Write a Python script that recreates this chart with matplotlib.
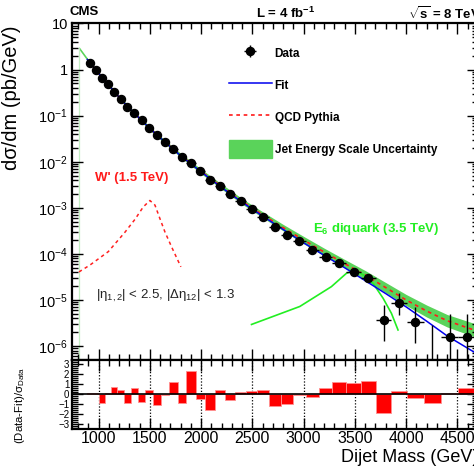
import numpy as np
import matplotlib
matplotlib.use('Agg')
import matplotlib.pyplot as plt
from matplotlib.ticker import MultipleLocator, LogLocator, NullFormatter, FuncFormatter
from matplotlib.patches import Patch
from matplotlib.lines import Line2D

plt.rcParams['font.family'] = ['Liberation Sans', 'DejaVu Sans']
plt.rcParams['mathtext.fontset'] = 'custom'
plt.rcParams['mathtext.rm'] = 'Liberation Sans'
plt.rcParams['mathtext.it'] = 'Liberation Sans:italic'
plt.rcParams['mathtext.bf'] = 'Liberation Sans:bold'

# Dijet mass bin edges (GeV)
bin_edges = [890, 944, 1000, 1058, 1118, 1181, 1246, 1313, 1383, 1455, 1530, 1607,
             1687, 1770, 1856, 1945, 2037, 2132, 2231, 2332, 2438, 2546, 2659, 2775,
             2895, 3019, 3147, 3279, 3416, 3558, 3704, 3854, 4010, 4171, 4337, 4509, 4686]

# measured dsigma/dm (pb/GeV), one per bin (0 = empty bin)
data_val = [1.40, 1.00, 0.67, 0.49, 0.334, 0.228, 0.158, 0.113, 0.0787, 0.0537,
            0.038, 0.0267, 0.0188, 0.0126, 0.00955, 0.0062, 0.00409, 0.00303,
            0.0020, 0.00139, 9.46e-4, 6.47e-4, 3.93e-4, 2.54e-4, 1.90e-4, 1.19e-4,
            8.5e-5, 6.3e-5, 4.03e-5, 2.95e-5, 3.6e-6, 8.5e-6, 3.3e-6, 0.0, 1.55e-6, 1.55e-6]
# absolute error bars
data_err_up = [0.005, 0.004, 0.003, 0.002, 0.002, 0.001, 0.001, 0.001, 7e-4, 5e-4,
               4e-4, 3e-4, 2e-4, 2e-4, 1.5e-4, 1.2e-4, 9e-5, 7e-5, 5e-5, 4e-5,
               3e-5, 2.5e-5, 1.8e-5, 1.4e-5, 1.2e-5, 9e-6, 7e-6, 6e-6, 6e-6, 5e-6,
               4.2e-6, 5.5e-6, 3.9e-6, 2.9e-6, 3.5e-6, 3.5e-6]
data_err_dn = [0.005, 0.004, 0.003, 0.002, 0.002, 0.001, 0.001, 0.001, 7e-4, 5e-4,
               4e-4, 3e-4, 2e-4, 2e-4, 1.5e-4, 1.2e-4, 9e-5, 7e-5, 5e-5, 4e-5,
               3e-5, 2.5e-5, 1.8e-5, 1.4e-5, 1.2e-5, 9e-6, 7e-6, 6e-6, 6e-6, 5e-6,
               2.3e-6, 3.8e-6, 2.15e-6, 0.0, 1.3e-6, 1.3e-6]

# (Data-Fit)/sigma per bin
residual = [0.12, 0.12, -0.9, 0.15, 0.7, 0.4, -0.9, 0.65, -0.75, 0.4, -1.1, -0.05,
            1.2, -0.85, 2.3, -0.5, -1.55, 0.45, -0.6, 0.25, 0.3, 0.45, -1.15, -0.95,
            -0.05, -0.3, 0.6, 1.2, 1.1, 1.3, -1.9, 0.3, -0.35, -0.9, 0.1, 0.6]

# curves, values given as log10(pb/GeV)
fit_mass = [890, 1000, 1100, 1200, 1300, 1400, 1500, 1600, 1800, 2000, 2200, 2400,
            2600, 2800, 3000, 3200, 3400, 3600, 3800, 4000, 4200, 4400, 4700]
fit_log10 = [0.22, -0.08, -0.34, -0.60, -0.84, -1.06, -1.28, -1.48, -1.87, -2.22, -2.56,
             -2.88, -3.18, -3.47, -3.76, -4.03, -4.30, -4.58, -4.86, -5.15, -5.46, -5.78, -6.18]

qcd_mass = [808, 900, 1000, 1100, 1200, 1300, 1400, 1500, 1600, 1800, 2000, 2200,
            2400, 2600, 2800, 3000, 3200, 3400, 3600, 3800, 4000, 4200, 4400, 4700]
qcd_log10 = [0.47, 0.19, -0.08, -0.34, -0.60, -0.84, -1.06, -1.28, -1.48, -1.86, -2.21,
             -2.54, -2.86, -3.15, -3.43, -3.70, -3.96, -4.21, -4.46, -4.73, -5.00,
             -5.24, -5.45, -5.68]
jes_halfwidth = [0.03, 0.03, 0.03, 0.03, 0.03, 0.035, 0.035, 0.04, 0.04, 0.045, 0.05,
                 0.055, 0.06, 0.065, 0.07, 0.08, 0.085, 0.09, 0.10, 0.11, 0.12, 0.13,
                 0.135, 0.145]

wprime_mass = [808, 916, 1094, 1256, 1354, 1435, 1500, 1549, 1597, 1646, 1712, 1802]
wprime_log10 = [-4.39, -4.24, -3.95, -3.53, -3.25, -2.98, -2.84, -2.94, -3.23, -3.52,
                -3.85, -4.28]

diquark_mass = [2491, 2962, 3270, 3417, 3507, 3612, 3677, 3774, 3856, 3920]
diquark_log10 = [-5.53, -5.14, -4.71, -4.42, -4.35, -4.50, -4.64, -4.96, -5.29, -5.65]

xticks_major = [1000, 1500, 2000, 2500, 3000, 3500, 4000, 4500]

# ---------------------------------------------------------------
edges = np.array(bin_edges, dtype=float)
centers = 0.5 * (edges[:-1] + edges[1:])
halfw = 0.5 * np.diff(edges)
yval = np.array(data_val)

fig = plt.figure(figsize=(4.74, 4.68), dpi=100)
ax = fig.add_axes([0.1519, 0.2308, 0.8565, 0.7190])
axr = fig.add_axes([0.1519, 0.0823, 0.8565, 0.1485], sharex=ax)

ylo, yhi = 5e-7, 10.0
qm = np.array(qcd_mass)
band_c = np.array(qcd_log10)
band_w = np.array(jes_halfwidth)
ax.fill_between(qm, 10 ** (band_c - band_w), 10 ** (band_c + band_w),
                color='#5ad35a', lw=0, zorder=1)
# left edge of the band drawn down to the axis
frac = ((band_c[0] - band_w[0]) - np.log10(ylo)) / (np.log10(yhi) - np.log10(ylo))
ax.axvline(qm[0], ymax=frac, color='#c4eec4', lw=0.9, zorder=1)

# QCD line only where the fit is drawn too (below it it is hidden by the band)
sel = qm >= fit_mass[0]
ax.plot(qm[sel], 10 ** band_c[sel], color='#ff1a1a', lw=1.2, ls=(0, (2.2, 2.2)), zorder=2)
ax.plot(fit_mass, 10 ** np.array(fit_log10), color='#0000ee', lw=1.1, zorder=3)
ax.plot(wprime_mass, 10 ** np.array(wprime_log10), color='#ff2020', lw=1.1,
        ls=(0, (2.2, 2.2)), zorder=2)
ax.plot(diquark_mass, 10 ** np.array(diquark_log10), color='#22ee22', lw=1.2, zorder=2)

ax.errorbar(centers, yval, yerr=[data_err_dn, data_err_up], xerr=halfw,
            fmt='o', color='black', ms=5.8, elinewidth=1.0, capsize=0, zorder=5)

ax.set_yscale('log')
ax.set_xlim(740, 4700)
ax.set_ylim(ylo, yhi)

def dec_label(v, pos):
    e = int(round(np.log10(v)))
    if e == 0:
        return '1'
    if e == 1:
        return '10'
    return r'$10^{%d}$' % e

ax.yaxis.set_major_locator(LogLocator(base=10, numticks=20))
ax.yaxis.set_minor_locator(LogLocator(base=10, subs=np.arange(2, 10), numticks=20))
ax.yaxis.set_major_formatter(FuncFormatter(dec_label))
ax.yaxis.set_minor_formatter(NullFormatter())
ax.xaxis.set_major_locator(MultipleLocator(500))
ax.xaxis.set_minor_locator(MultipleLocator(100))
ax.tick_params(axis='x', labelbottom=False)
for a in (ax, axr):
    a.tick_params(which='both', direction='in', top=True, right=True, width=1.0)
    a.tick_params(which='major', length=8)
    a.tick_params(which='minor', length=4)
    for s in a.spines.values():
        s.set_linewidth(1.6)
ax.tick_params(axis='y', labelsize=10.5, pad=3)

ax.set_ylabel('dσ/dm (pb/GeV)', fontsize=14.5)
ax.yaxis.set_label_coords(-0.125, 0.78)

ax.text(964, 4.4e-3, "W' (1.5 TeV)", color='#ff1a1a', fontsize=9.5,
        fontweight='bold', va='center')
ax.text(3090, 3.5e-4, r'E$_{\mathbf{6}}$ diquark (3.5 TeV)', color='#22ee22',
        fontsize=9.5, fontweight='bold', va='center')
ax.text(974, 1.2e-5, r'|η$_{1,2}$| < 2.5, |Δη$_{12}$| < 1.3', color='#222222',
        fontsize=9.5, va='center')

handles = [
    ax.errorbar([], [], yerr=[], xerr=[], fmt='o', color='black', ms=5.8,
                elinewidth=1.0, capsize=0),
    Line2D([], [], color='#0000ee', lw=1.1),
    Line2D([], [], color='#ff1a1a', lw=1.2, ls=(0, (2.2, 2.2))),
    Patch(facecolor='#5ad35a', edgecolor='#5ad35a'),
]
labels = ['Data', 'Fit', 'QCD Pythia', 'Jet Energy Scale Uncertainty']
leg = ax.legend(handles, labels, loc='upper left', bbox_to_anchor=(0.387, 0.938),
                frameon=False, borderpad=0, borderaxespad=0, handlelength=3.6,
                handleheight=2.0, handletextpad=0.25, labelspacing=1.16,
                prop={'size': 8.5, 'weight': 'bold'})

# ratio panel
axr.bar(edges[:-1], residual, width=np.diff(edges), align='edge', color='#ff0000',
        edgecolor='#ff9090', lw=0.6, zorder=2)
axr.axhline(0, color='black', lw=1.2, zorder=3)
axr.set_ylim(-3.5, 3.4)
axr.yaxis.set_major_locator(MultipleLocator(1))
axr.yaxis.set_minor_locator(MultipleLocator(0.2))
axr.set_xticks(xticks_major)
axr.xaxis.set_minor_locator(MultipleLocator(100))
axr.grid(axis='x', which='major', ls=(0, (1, 1.5)), color='black', lw=0.9)
axr.tick_params(axis='y', labelsize=7, pad=2)
axr.tick_params(axis='x', labelsize=11.5, pad=1)
axr.set_ylabel(r'(Data-Fit)/σ$_{\rm Data}$', fontsize=8.2)
axr.yaxis.set_label_coords(-0.111, 0.35)
axr.set_xlabel('Dijet Mass (GeV)', fontsize=13, ha='right', va='center')
axr.xaxis.set_label_coords(1.0, -0.396)

fig.text(70 / 474, 0.974, 'CMS', fontsize=9.5, fontweight='bold', va='center')
fig.text(256 / 474, 0.972, r'L = 4 fb$^{\mathbf{-1}}$', fontsize=9.5,
         fontweight='bold', va='center')
fig.text(408 / 474, 0.972, r'$\mathbf{\sqrt{s}}$ = 8 TeV', fontsize=9.5,
         fontweight='bold', va='center')

fig.savefig('out.png', dpi=100)
